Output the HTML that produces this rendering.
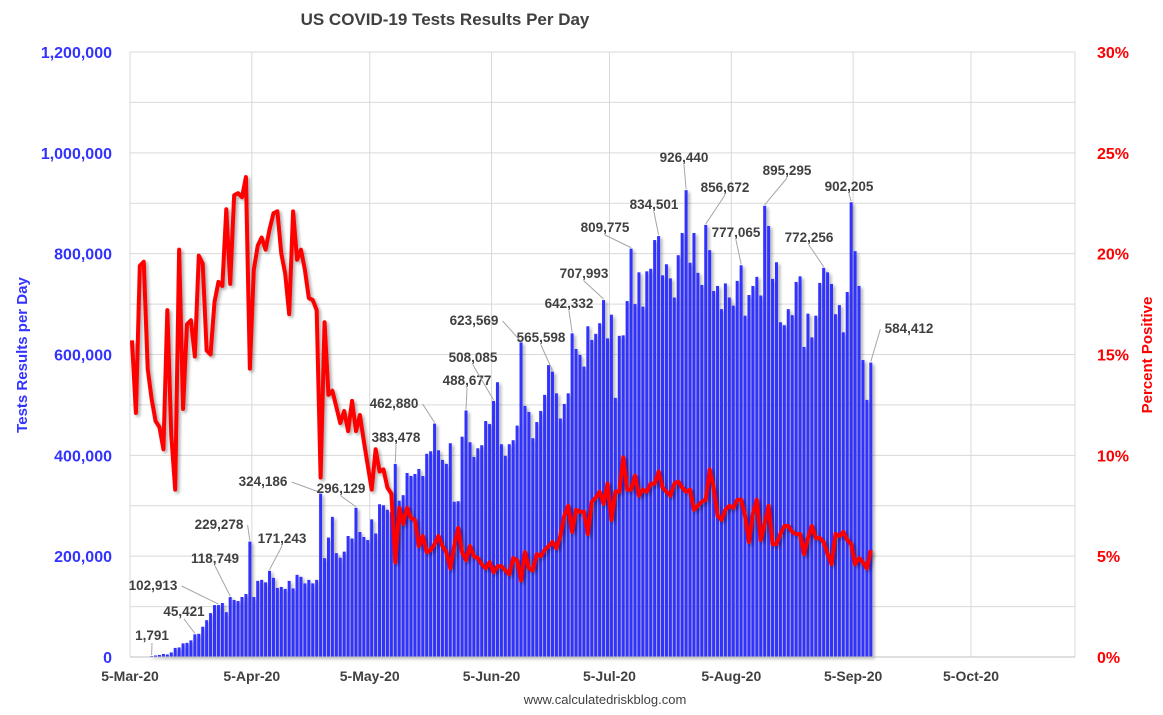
<!DOCTYPE html>
<html><head><meta charset="utf-8"><style>
html,body{margin:0;padding:0;background:#fff;}
svg{display:block;font-family:"Liberation Sans",Arial,sans-serif;}
</style></head><body>
<svg id="chart" width="1163" height="715" viewBox="0 0 1163 715" xmlns="http://www.w3.org/2000/svg">
<defs>
<filter id="sh" x="-5%" y="-5%" width="110%" height="110%"><feGaussianBlur in="SourceAlpha" stdDeviation="1.5"/><feOffset dx="2" dy="2"/><feComponentTransfer><feFuncA type="linear" slope="0.35"/></feComponentTransfer><feMerge><feMergeNode/><feMergeNode in="SourceGraphic"/></feMerge></filter>
</defs>
<text x="445" y="25" text-anchor="middle" font-size="17" font-weight="bold" fill="#404040">US COVID-19 Tests Results Per Day</text>
<text transform="translate(27,355) rotate(-90)" text-anchor="middle" font-size="15" font-weight="bold" fill="#3333ff">Tests Results per Day</text>
<text transform="translate(1152,355) rotate(-90)" text-anchor="middle" font-size="15" font-weight="bold" fill="#ff0000">Percent Positive</text>
<text x="605" y="704" text-anchor="middle" font-size="13" fill="#404040">www.calculatedriskblog.com</text>
<g id="grid"></g><g id="bars" filter="url(#sh)"></g><g id="line" filter="url(#sh)"></g><g id="labels"></g><g id="axes"></g>
</svg>
<script>
const tests = [0,0,0,0,0.5,1.8,3,4,6,5,9,18,19,27,28,33,45,46,60,73,87,103,103,107,89,119,113,111,119,125,229,
119,151,153,148,171,157,137,139,135,151,136,163,159,146,153,146,153,324,
196,237,278,206,197,209,240,235,296,248,238,232,
273,245,303,301,292,288,
383,310,321,365,359,363,373,359,403,408,463,410,391,383,424,308,309,437,489,426,397,414,420,468,462,508,545,422,399,422,430,459,624,498,486,434,466,488,520,579,566,523,473,502,523,642,611,599,576,656,629,641,662,708,632,
679,514,637,638,706,810,700,763,695,765,770,827,835,757,779,751,713,797,841,926,782,841,762,738,857,807,726,736,690,741,713,697,746,777,677,718,736,754,717,895,855,750,783,664,658,690,678,744,755,615,681,634,677,742,772,763,740,680,698,644,724,902,805,736,589,510,584];
const pct = [15.7,12.1,19.4,19.6,14.3,12.8,11.7,11.4,10.3,17.2,11.0,8.3,20.2,12.3,16.5,16.7,14.9,19.9,19.5,15.2,15.0,17.6,18.6,18.4,22.2,18.5,22.9,23.0,22.8,23.8,14.3,
19.2,20.4,20.8,20.2,21.2,22.0,22.1,20.0,19.0,17.0,22.1,19.7,20.2,19.2,17.8,17.7,17.2,8.9,
16.6,13.0,13.2,12.4,11.6,12.2,11.2,12.7,11.2,12.0,10.7,9.5,
8.3,10.3,9.2,9.3,8.4,8.1,4.7,7.4,6.6,7.4,6.9,6.8,5.5,6.0,5.2,5.3,5.6,6.0,5.5,5.2,4.4,5.5,6.4,5.2,4.8,5.5,5.0,4.9,4.6,4.4,4.7,4.2,4.5,4.5,4.3,4.1,4.9,4.8,3.8,5.2,4.4,4.3,5.1,5.0,5.3,5.5,5.7,5.4,6.0,7.0,7.5,6.2,7.3,7.2,7.2,6.1,7.7,7.9,8.2,7.6,8.6,
6.8,8.2,8.2,9.9,8.3,8.3,9.0,8.0,8.3,8.2,8.6,8.6,9.2,8.4,8.2,8.0,8.6,8.7,8.4,8.2,8.3,7.3,7.5,7.7,7.8,9.3,8.4,7.0,6.8,7.3,7.5,7.4,7.8,7.8,7.0,5.7,7.1,7.8,5.8,6.6,7.5,5.6,5.6,6.1,6.5,6.5,6.2,6.1,6.1,5.1,5.9,6.5,5.9,5.9,5.7,5.1,4.6,6.1,6.0,6.2,5.8,5.6,4.6,4.9,4.7,4.4,5.3];
const leftTicks = ["0","200,000","400,000","600,000","800,000","1,000,000","1,200,000"];
const leftTickValues = [0,200,400,600,800,1000,1200];
const rightTicks = ["0%","5%","10%","15%","20%","25%","30%"];
const rightTickValues = [0,5,10,15,20,25,30];
const dateTicks = ["5-Mar-20","5-Apr-20","5-May-20","5-Jun-20","5-Jul-20","5-Aug-20","5-Sep-20","5-Oct-20"];
const dateTickDays = [0,31,61,92,122,153,184,214];
const labelDays = [5,16,22,25,30,35,48,57,67,77,85,92,99,107,112,120,127,134,141,146,155,161,176,183,188];
const labelText = ["1,791","45,421","102,913","118,749","229,278","171,243","324,186","296,129","383,478","462,880","488,677","508,085","623,569","565,598","642,332","707,993","809,775","834,501","926,440","856,672","777,065","895,295","772,256","902,205","584,412"];
// text anchor positions (layout only)
const labelPos = [[152,640],[184,616],[153,590],[215,563],[219,529],[282,543],[263,486],[341,493],[396,442],[394,408],[467,385],[473,362],[474,325],[541,342],[569,308],[584,278],[605,232],[654,209],[684,162],[725,192],[736,237],[787,175],[809,242],[849,191],[909,333]];

const X0=130, DAY=3.93, Y0=657, H=605;
const NS="http://www.w3.org/2000/svg";
function xDay(i){return X0+(i+0.5)*DAY;}
function xTick(d){return X0+d*DAY;}
function yL(v){return Y0-v/1200*H;}
function yR(p){return Y0-p/30*H;}
function mk(tag,attrs,parent,text){const e=document.createElementNS(NS,tag);for(const k in attrs)e.setAttribute(k,attrs[k]);if(text!==undefined)e.textContent=text;parent.appendChild(e);return e;}
const grid=document.getElementById('grid'),bars=document.getElementById('bars'),line=document.getElementById('line'),labels=document.getElementById('labels'),axes=document.getElementById('axes');
for(let v=100;v<=1200;v+=100){const g=mk('line',{x1:X0,x2:1075,y1:yL(v),y2:yL(v),stroke:'#d9d9d9','stroke-width':1},grid);

}
dateTickDays.forEach((d,k)=>{const g=mk('line',{x1:xTick(d),x2:xTick(d),y1:52,y2:Y0,stroke:'#d9d9d9','stroke-width':1},grid);


const t=mk('text',{x:xTick(d),y:681,'text-anchor':'middle','font-size':14,'font-weight':'bold',fill:'#404040'},axes,dateTicks[k]);

});
const g2=mk('line',{x1:1075,x2:1075,y1:52,y2:Y0,stroke:'#d9d9d9'},grid);


tests.forEach((v,i)=>{const r=mk('rect',{x:xDay(i)-1.5,y:yL(v),width:3,height:Math.max(0,Y0-yL(v)),fill:'#3333ff'},bars);

});
const pl=mk('polyline',{points:pct.map((p,i)=>xDay(i)+','+yR(p)).join(' '),fill:'none',stroke:'#ff0000','stroke-width':4,'stroke-linejoin':'round'},line);


const ax=mk('line',{x1:X0,x2:1075,y1:Y0,y2:Y0,stroke:'#bfbfbf'},axes);


leftTickValues.forEach((v,k)=>{const t=mk('text',{x:112,y:yL(v)+6,'text-anchor':'end','font-size':16,'font-weight':'bold',fill:'#3333ff'},axes,leftTicks[k]);

});
rightTickValues.forEach((v,k)=>{const t=mk('text',{x:1097,y:yR(v)+6,'font-size':16,'font-weight':'bold',fill:'#ff0000'},axes,rightTicks[k]);

});
labelDays.forEach((d,k)=>{const [tx,ty]=labelPos[k];const bx=xDay(d),by=yL(tests[d]);
const w=labelText[k].length*7.6;
let lx=tx,ly=ty-4;
if(bx>tx+w/2){lx=tx+w/2+2;}else if(bx<tx-w/2){lx=tx-w/2-2;}else{ly=ty+3;}
const l=mk('polyline',{points:lx+','+ly+' '+bx+','+(by-1),fill:'none',stroke:'#a6a6a6','stroke-width':1},labels);


const t=mk('text',{x:tx,y:ty,'text-anchor':'middle','font-size':13.5,'font-weight':'bold',fill:'#404040'},labels,labelText[k]);

});
</script>
</body></html>
